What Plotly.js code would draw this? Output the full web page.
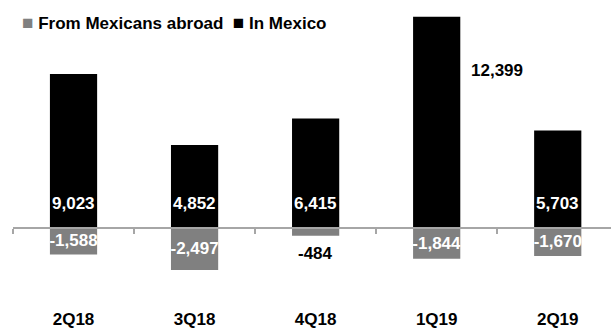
<!DOCTYPE html>
<html>
<head>
<meta charset="utf-8">
<script src="https://cdn.plot.ly/plotly-3.0.1.min.js"></script>
<style>html,body{margin:0;padding:0;background:#fff;}#chart{width:611px;height:330px;}</style>
</head>
<body>
<div id="chart"></div>
<script>
var categories = ["2Q18", "3Q18", "4Q18", "1Q19", "2Q19"];
var inMexico = [9023, 4852, 6415, 12399, 5703];
var fromAbroad = [-1588, -2497, -484, -1844, -1670];
var seriesNames = ["From Mexicans abroad", "In Mexico"];

var GRAY = "#808080";
var FONT = "Liberation Sans, Arial, sans-serif";
var FS = 17;
var fmt = function (v) { return v.toLocaleString("en-US"); };

var yMin = -4853, yMax = 12794;
var zeroPos = -yMin / (yMax - yMin);

var isShort = fromAbroad.map(function (v) { return Math.abs(v) < 1000; });

var traces = [
  {
    type: "bar", name: seriesNames[1], x: categories, y: inMexico,
    marker: { color: "#000" }, hoverinfo: "skip", showlegend: false
  },
  {
    type: "bar", name: seriesNames[0], x: categories, y: fromAbroad,
    marker: { color: GRAY }, hoverinfo: "skip", showlegend: false,
    text: fromAbroad.map(function (v, i) { return isShort[i] ? "" : fmt(v); }),
    textposition: "inside",
    insidetextanchor: "middle", constraintext: "none", cliponaxis: false,
    textfont: { family: FONT, size: FS, weight: 700, color: "#fff" }
  }
];

var maxIdx = inMexico.indexOf(Math.max.apply(null, inMexico));
var annotations = inMexico.map(function (v, i) {
  if (i === maxIdx) {
    return { x: categories[i], y: v, xref: "x", yref: "y", text: fmt(v),
      showarrow: false, xanchor: "left", yanchor: "middle", xshift: 32, yshift: -54,
      font: { family: FONT, size: FS, weight: 700, color: "#000" } };
  }
  return { x: categories[i], y: 0, xref: "x", yref: "y", text: fmt(v),
    showarrow: false, xanchor: "center", yanchor: "middle", yshift: 24.5,
    font: { family: FONT, size: FS, weight: 700, color: "#fff" } };
});
fromAbroad.forEach(function (v, i) {
  if (isShort[i]) {
    annotations.push({ x: categories[i], y: v, xref: "x", yref: "y", text: fmt(v),
      showarrow: false, xanchor: "center", yanchor: "middle", yshift: -18,
      font: { family: FONT, size: FS, weight: 700, color: "#000" } });
  }
});
annotations.push({
  xref: "paper", yref: "paper", x: (20 - 13) / 598, y: (310 - 22.5) / 300,
  xanchor: "left", yanchor: "middle", showarrow: false,
  text: "<span style='color:" + GRAY + ";font-size:19px'>■</span> " + seriesNames[0] +
        "\u00a0\u00a0<span style='color:#000;font-size:19px'>■</span> " + seriesNames[1],
  font: { family: FONT, size: FS, weight: 700, color: "#000" }
});

var layout = {
  width: 611, height: 330,
  margin: { l: 13, r: 0, t: 10, b: 20 },
  paper_bgcolor: "#fff", plot_bgcolor: "#fff",
  barmode: "overlay", bargap: 0.61,
  showlegend: false,
  xaxis: {
    type: "category", range: [-0.5, 4.44],
    anchor: "free", position: zeroPos,
    showline: true, linecolor: "#a6a6a6", linewidth: 1.5,
    ticks: "outside", tickson: "boundaries", ticklen: 5, tickcolor: "#a6a6a6", tickwidth: 1.5,
    ticklabelstandoff: 76,
    tickfont: { family: FONT, size: FS, weight: 700, color: "#000" },
    showgrid: false, zeroline: false, fixedrange: true
  },
  yaxis: {
    range: [yMin, yMax], visible: false, showgrid: false, zeroline: false, fixedrange: true
  },
  annotations: annotations
};

Plotly.newPlot("chart", traces, layout, { displayModeBar: false, staticPlot: true });
</script>
</body>
</html>
